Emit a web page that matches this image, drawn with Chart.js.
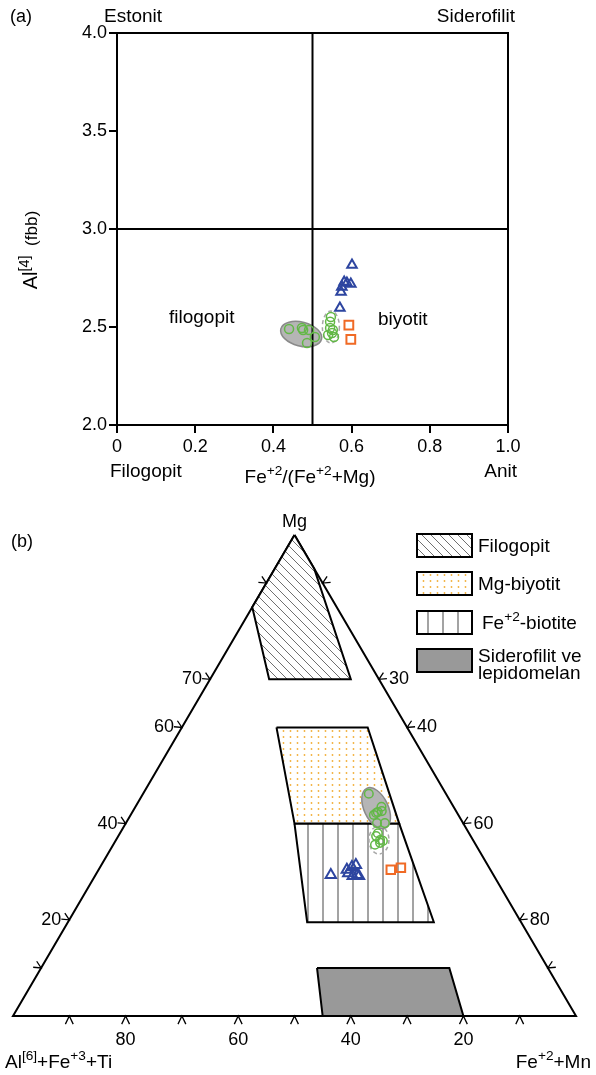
<!DOCTYPE html>
<html lang="tr">
<head>
<meta charset="UTF-8">
<title>Biyotit sınıflama diyagramları</title>
<script src="https://cdn.jsdelivr.net/npm/chart.js@4"></script>
<style>
  html, body { margin: 0; padding: 0; background: #fff; }
  body { width: 596px; height: 1075px; position: relative; overflow: hidden; }
  #chartA { position: absolute; left: 0; top: 0; }
  #chartB { position: absolute; left: 0; top: 500px; }
</style>
</head>
<body>
<canvas id="chartA" width="596" height="500"></canvas>
<canvas id="chartB" width="596" height="575"></canvas>
<script>
const FONT = '"Liberation Sans", Arial, Helvetica, sans-serif';

// ---------- (a) Fe+2/(Fe+2+Mg) - Al[4] ----------
const ratioTicks = [0, 0.2, 0.4, 0.6, 0.8, 1.0];
const al4Ticks = [2.0, 2.5, 3.0, 3.5, 4.0];
const fieldRatio = 0.5;   // dikey sınır
const fieldAl4 = 3.0;     // yatay sınır

const circRatio = [0.440, 0.473, 0.476, 0.491, 0.506, 0.486, 0.547, 0.545, 0.550, 0.540, 0.555, 0.552, 0.545];
const circAl4   = [2.490, 2.495, 2.485, 2.485, 2.449, 2.418, 2.551, 2.495, 2.469, 2.459, 2.449, 2.485, 2.527];
const triRatio  = [0.601, 0.581, 0.588, 0.598, 0.575, 0.573, 0.570];
const triAl4    = [2.816, 2.730, 2.724, 2.719, 2.704, 2.679, 2.597];
const sqRatio   = [0.593, 0.598];
const sqAl4     = [2.510, 2.437];

// ---------- (b) Mg - (Al[6]+Fe+3+Ti) - (Fe+2+Mn), % ----------
const circMg = [46.2, 43.5, 42.2, 41.8, 42.4, 40.1, 40.1, 42.6, 37.4, 36.6, 36.4, 35.6, 36.0, 38.0];
const circFe = [40.1, 43.7, 43.4, 43.2, 43.6, 44.6, 46.0, 44.2, 45.8, 46.9, 47.5, 46.5, 47.2, 45.8];
const triMg  = [29.3, 30.4, 31.0, 31.4, 29.7, 29.3, 29.1, 29.1];
const triFe  = [41.8, 44.1, 44.7, 45.2, 44.7, 46.5, 46.9, 45.8];
const sqMg   = [30.4, 30.8];
const sqFe   = [51.9, 53.5];

// alan köşeleri (Mg, Fe+2)
const filogopitMg = [100, 93, 70, 70, 85];
const filogopitFe = [0, 7, 25, 10.5, 0];
const mgBiyotitMg = [60, 60, 40, 40];
const mgBiyotitFe = [16.8, 33, 48.6, 30];
const feBiotiteMg = [40, 40, 19.5, 19.5];
const feBiotiteFe = [30, 48.6, 65, 42.5];
const sideroMg    = [10, 10, 0, 0];
const sideroFe    = [49, 72.5, 80, 55];

// kenar çentikleri ve etiketleri
const leftTicks  = [90, 70, 60, 40, 20, 10];          // Mg
const leftLabels = [70, 60, 40, 20];
const rightTicks  = [10, 30, 40, 60, 80, 90];         // Fe+2+Mn
const rightLabels = [30, 40, 60, 80];
const baseTicks  = [90, 80, 70, 60, 50, 40, 30, 20, 10]; // Al[6]+Fe+3+Ti
const baseLabels = [80, 60, 40, 20];

// gri zarflar (veri birimlerinde merkez)
const hullA  = { x: 0.471, y: 2.464 };
const hullA2 = { x: 0.547, y: 2.500 };
const hullB  = { mg: 43.2, fe: 42.9 };
const hullB2 = { mg: 36.6, fe: 46.7 };

const GREEN = '#62b846', BLUE = '#2d45a0', ORANGE = '#f06a25';

const zip = (xs, ys) => xs.map((x, i) => ({ x, y: ys[i] }));
const tern = (mg, fe) => ({ x: (fe + mg / 2) / 100, y: mg / 100 });
const ternPts = (mgs, fes) => mgs.map((m, i) => tern(m, fes[i]));
const closed = pts => pts.concat([pts[0]]);

function makePattern(w, h, paint) {
  const c = document.createElement('canvas');
  c.width = w; c.height = h;
  const g = c.getContext('2d');
  g.fillStyle = '#fff';
  g.fillRect(0, 0, w, h);
  paint(g, w, h);
  return g.createPattern(c, 'repeat');
}
const hatchFill = makePattern(9, 9, (g, w, h) => {
  g.strokeStyle = '#707070'; g.lineWidth = 1;
  g.beginPath();
  g.moveTo(0, 0); g.lineTo(w, h);
  g.moveTo(-1, h - 1); g.lineTo(1, h + 1);
  g.moveTo(w - 1, -1); g.lineTo(w + 1, 1);
  g.stroke();
});
const dotFill = makePattern(7, 6, g => {
  g.fillStyle = '#f2b03a';
  g.beginPath(); g.arc(3.5, 3, 0.9, 0, Math.PI * 2); g.fill();
});
const stripeFill = makePattern(15, 4, g => {
  g.fillStyle = '#a3a3a3';
  g.fillRect(7, 0, 2, 4);
});
const GRAY_FILL = '#999999';

// üst/alt simgeli metin
function richText(ctx, parts, x, y, size, align) {
  const spec = parts.map(([t, k]) => {
    const s = k === 'sup' ? size * 0.72 : k === 'sm' ? size * 0.86 : size;
    ctx.font = s + 'px ' + FONT;
    return { t, k, s, w: ctx.measureText(t).width };
  });
  const total = spec.reduce((a, p) => a + p.w, 0);
  let cx = align === 'center' ? x - total / 2 : align === 'right' ? x - total : x;
  ctx.textAlign = 'left';
  ctx.textBaseline = 'alphabetic';
  spec.forEach(p => {
    ctx.font = p.s + 'px ' + FONT;
    ctx.fillText(p.t, cx, p.k === 'sup' ? y - size * 0.42 : y);
    cx += p.w;
  });
}
function plainText(ctx, t, x, y, size, align) {
  ctx.font = size + 'px ' + FONT;
  ctx.textAlign = align;
  ctx.textBaseline = 'middle';
  ctx.fillText(t, x, y);
}

const markerSet = (label, data, style, color, r, bw) => ({
  label, data, pointStyle: style, pointRadius: r, pointBorderWidth: bw,
  pointBorderColor: color, pointBackgroundColor: 'rgba(0,0,0,0)', showLine: false, clip: false, order: 0
});

// ---------- Panel (a) ----------
const panelA = {
  id: 'panelA',
  beforeDatasetsDraw(chart) {
    const { ctx, scales: { x, y } } = chart;
    ctx.save();
    ctx.fillStyle = '#b5b5b5';
    ctx.strokeStyle = '#8a8a8a';
    ctx.lineWidth = 1.5;
    ctx.beginPath();
    ctx.ellipse(x.getPixelForValue(hullA.x), y.getPixelForValue(hullA.y), 21, 12, 0.25, 0, Math.PI * 2);
    ctx.fill(); ctx.stroke();
    ctx.setLineDash([4, 3]);
    ctx.strokeStyle = '#a8a8a8';
    ctx.beginPath();
    ctx.ellipse(x.getPixelForValue(hullA2.x), y.getPixelForValue(hullA2.y), 8.5, 16, 0, 0, Math.PI * 2);
    ctx.stroke();
    ctx.restore();
  },
  afterDraw(chart) {
    const { ctx, chartArea: a } = chart;
    ctx.save();
    ctx.strokeStyle = '#000';
    ctx.lineWidth = 2;
    ctx.strokeRect(a.left, a.top, a.right - a.left, a.bottom - a.top);
    ctx.fillStyle = '#000';
    plainText(ctx, '(a)', 10, 17, 18, 'left');
    plainText(ctx, 'Estonit', 104, 17, 19, 'left');
    plainText(ctx, 'Siderofilit', 515, 17, 19, 'right');
    plainText(ctx, 'filogopit', 169, 318, 19, 'left');
    plainText(ctx, 'biyotit', 378, 320, 19, 'left');
    plainText(ctx, 'Filogopit', 110, 472, 19, 'left');
    plainText(ctx, 'Anit', 517, 472, 19, 'right');
    richText(ctx, [['Fe', ''], ['+2', 'sup'], ['/(Fe', ''], ['+2', 'sup'], ['+Mg)', '']], 310, 483, 19, 'center');
    ctx.translate(30, 250);
    ctx.rotate(-Math.PI / 2);
    richText(ctx, [['Al', ''], ['[4]', 'sup'], ['  (fbb)', 'sm']], 0, 7, 20, 'center');
    ctx.restore();
  }
};

const lineSet = (data) => ({
  data, showLine: true, borderColor: '#000', borderWidth: 2, pointRadius: 0, fill: false, clip: false, order: 1
});

new Chart(document.getElementById('chartA'), {
  type: 'scatter',
  data: {
    datasets: [
      markerSet('circles', zip(circRatio, circAl4), 'circle', GREEN, 4.5, 1.5),
      markerSet('triangles', zip(triRatio, triAl4), 'triangle', BLUE, 5.5, 2),
      markerSet('squares', zip(sqRatio, sqAl4), 'rect', ORANGE, 6.2, 2),
      lineSet([{ x: fieldRatio, y: al4Ticks[0] }, { x: fieldRatio, y: al4Ticks[al4Ticks.length - 1] }]),
      lineSet([{ x: ratioTicks[0], y: fieldAl4 }, { x: ratioTicks[ratioTicks.length - 1], y: fieldAl4 }])
    ]
  },
  options: {
    responsive: false,
    animation: false,
    events: [],
    layout: { padding: { left: 0, right: 88, top: 33, bottom: 0 } },
    plugins: { legend: { display: false }, tooltip: { enabled: false } },
    scales: {
      x: {
        type: 'linear', min: 0, max: 1,
        afterBuildTicks: s => { s.ticks = ratioTicks.map(v => ({ value: v })); },
        afterFit: s => { s.height = 75; },
        ticks: {
          color: '#000', font: { family: FONT, size: 18 }, padding: 3, maxRotation: 0, autoSkip: false,
          callback: v => v === 0 ? '0' : v.toFixed(1)
        },
        grid: { drawOnChartArea: false, drawTicks: true, tickLength: 8, color: '#000', lineWidth: 2 },
        border: { display: true, color: '#000', width: 2 }
      },
      y: {
        type: 'linear', min: 2, max: 4,
        afterBuildTicks: s => { s.ticks = al4Ticks.map(v => ({ value: v })); },
        afterFit: s => { s.width = 117; },
        ticks: {
          color: '#000', font: { family: FONT, size: 18 }, padding: 2, autoSkip: false,
          callback: v => v.toFixed(1)
        },
        grid: { drawOnChartArea: false, drawTicks: true, tickLength: 8, color: '#000', lineWidth: 2 },
        border: { display: true, color: '#000', width: 2 }
      }
    }
  },
  plugins: [panelA]
});

// ---------- Panel (b) ----------
function chevron(ctx, px, py, nx, ny, len) {
  const a = Math.atan2(ny, nx), d = 0.45;
  ctx.beginPath();
  ctx.moveTo(px + Math.cos(a - d) * len, py + Math.sin(a - d) * len);
  ctx.lineTo(px, py);
  ctx.lineTo(px + Math.cos(a + d) * len, py + Math.sin(a + d) * len);
  ctx.stroke();
}

let hullDrawn = false;
const panelB = {
  id: 'panelB',
  beforeDatasetsDraw() { hullDrawn = false; },
  beforeDatasetDraw(chart, args) {
    if (hullDrawn || args.meta.order !== 0) return;
    hullDrawn = true;
    const { ctx, scales: { x, y } } = chart;
    const c1 = tern(hullB.mg, hullB.fe), c2 = tern(hullB2.mg, hullB2.fe);
    ctx.save();
    ctx.fillStyle = '#b5b5b5';
    ctx.strokeStyle = '#8a8a8a';
    ctx.lineWidth = 1.5;
    ctx.beginPath();
    ctx.ellipse(x.getPixelForValue(c1.x), y.getPixelForValue(c1.y), 22, 12, 1.13, 0, Math.PI * 2);
    ctx.fill(); ctx.stroke();
    ctx.setLineDash([4, 3]);
    ctx.strokeStyle = '#a8a8a8';
    ctx.beginPath();
    ctx.ellipse(x.getPixelForValue(c2.x), y.getPixelForValue(c2.y), 10, 14, 0, 0, Math.PI * 2);
    ctx.stroke();
    ctx.restore();
  },
  afterDraw(chart) {
    const { ctx, scales: { x, y } } = chart;
    const px = p => ({ x: x.getPixelForValue(p.x), y: y.getPixelForValue(p.y) });
    const apex = px(tern(100, 0)), lc = px(tern(0, 0)), rc = px(tern(0, 100));
    const norm = (vx, vy) => { const l = Math.hypot(vx, vy); return [vx / l, vy / l]; };
    const nL = norm(apex.y - lc.y, -(apex.x - lc.x));
    const nR = norm(-(apex.y - rc.y), apex.x - rc.x);
    ctx.save();
    ctx.strokeStyle = '#000';
    ctx.fillStyle = '#000';
    ctx.lineWidth = 1.3;

    leftTicks.forEach(m => {
      const p = px(tern(m, 0));
      chevron(ctx, p.x, p.y, nL[0], nL[1], 8);
      if (leftLabels.includes(m)) plainText(ctx, String(m), p.x - 8, p.y, 18, 'right');
    });
    rightTicks.forEach(f => {
      const p = px(tern(100 - f, f));
      chevron(ctx, p.x, p.y, nR[0], nR[1], 8);
      if (rightLabels.includes(f)) plainText(ctx, String(f), p.x + 10, p.y, 18, 'left');
    });
    baseTicks.forEach(al => {
      const p = px(tern(0, 100 - al));
      chevron(ctx, p.x, p.y, 0, 1, 9);
      if (baseLabels.includes(al)) plainText(ctx, String(al), p.x, p.y + 24, 18, 'center');
    });

    plainText(ctx, 'Mg', apex.x, 22, 18, 'center');
    plainText(ctx, '(b)', 11, 42, 18, 'left');
    richText(ctx, [['Al', ''], ['[6]', 'sup'], ['+Fe', ''], ['+3', 'sup'], ['+Ti', '']], 5, 568, 19, 'left');
    richText(ctx, [['Fe', ''], ['+2', 'sup'], ['+Mn', '']], 591, 568, 19, 'right');

    // lejant
    const legend = [
      [hatchFill, 34, [['Filogopit', '']], 478],
      [dotFill, 72, [['Mg-biyotit', '']], 478],
      [stripeFill, 111, [['Fe', ''], ['+2', 'sup'], ['-biotite', '']], 482],
      [GRAY_FILL, 149, null, 478]
    ];
    ctx.lineWidth = 2;
    legend.forEach(([fill, top, parts, tx]) => {
      ctx.fillStyle = fill;
      ctx.fillRect(417, top, 55, 23);
      ctx.strokeRect(417, top, 55, 23);
      ctx.fillStyle = '#000';
      if (parts) richText(ctx, parts, tx, top + 18, 19, 'left');
    });
    plainText(ctx, 'Siderofilit ve', 478, 157, 19, 'left');
    plainText(ctx, 'lepidomelan', 478, 174, 19, 'left');
    ctx.restore();
  }
};

const regionSet = (label, pts, fill) => ({
  label, data: closed(pts), showLine: true, borderColor: '#000', borderWidth: 2,
  borderJoinStyle: 'miter', pointRadius: 0, fill: 'shape', backgroundColor: fill, clip: false, order: 1
});

new Chart(document.getElementById('chartB'), {
  type: 'scatter',
  data: {
    datasets: [
      markerSet('circles', ternPts(circMg, circFe), 'circle', GREEN, 4.3, 1.5),
      markerSet('triangles', ternPts(triMg, triFe), 'triangle', BLUE, 6, 2),
      markerSet('squares', ternPts(sqMg, sqFe), 'rect', ORANGE, 6, 2),
      regionSet('Filogopit', ternPts(filogopitMg, filogopitFe), hatchFill),
      regionSet('Mg-biyotit', ternPts(mgBiyotitMg, mgBiyotitFe), dotFill),
      regionSet('Fe+2-biotite', ternPts(feBiotiteMg, feBiotiteFe), stripeFill),
      regionSet('Siderofilit ve lepidomelan', ternPts(sideroMg, sideroFe), GRAY_FILL),
      {
        label: 'frame', data: closed([tern(100, 0), tern(0, 100), tern(0, 0)]), showLine: true,
        borderColor: '#000', borderWidth: 2, borderJoinStyle: 'miter', pointRadius: 0, fill: false, clip: false, order: 2
      }
    ]
  },
  options: {
    responsive: false,
    animation: false,
    events: [],
    layout: { padding: { left: 13, right: 20, top: 35, bottom: 59 } },
    plugins: { legend: { display: false }, tooltip: { enabled: false } },
    scales: {
      x: { type: 'linear', min: 0, max: 1, display: false },
      y: { type: 'linear', min: 0, max: 1, display: false }
    }
  },
  plugins: [panelB]
});
</script>
</body>
</html>
